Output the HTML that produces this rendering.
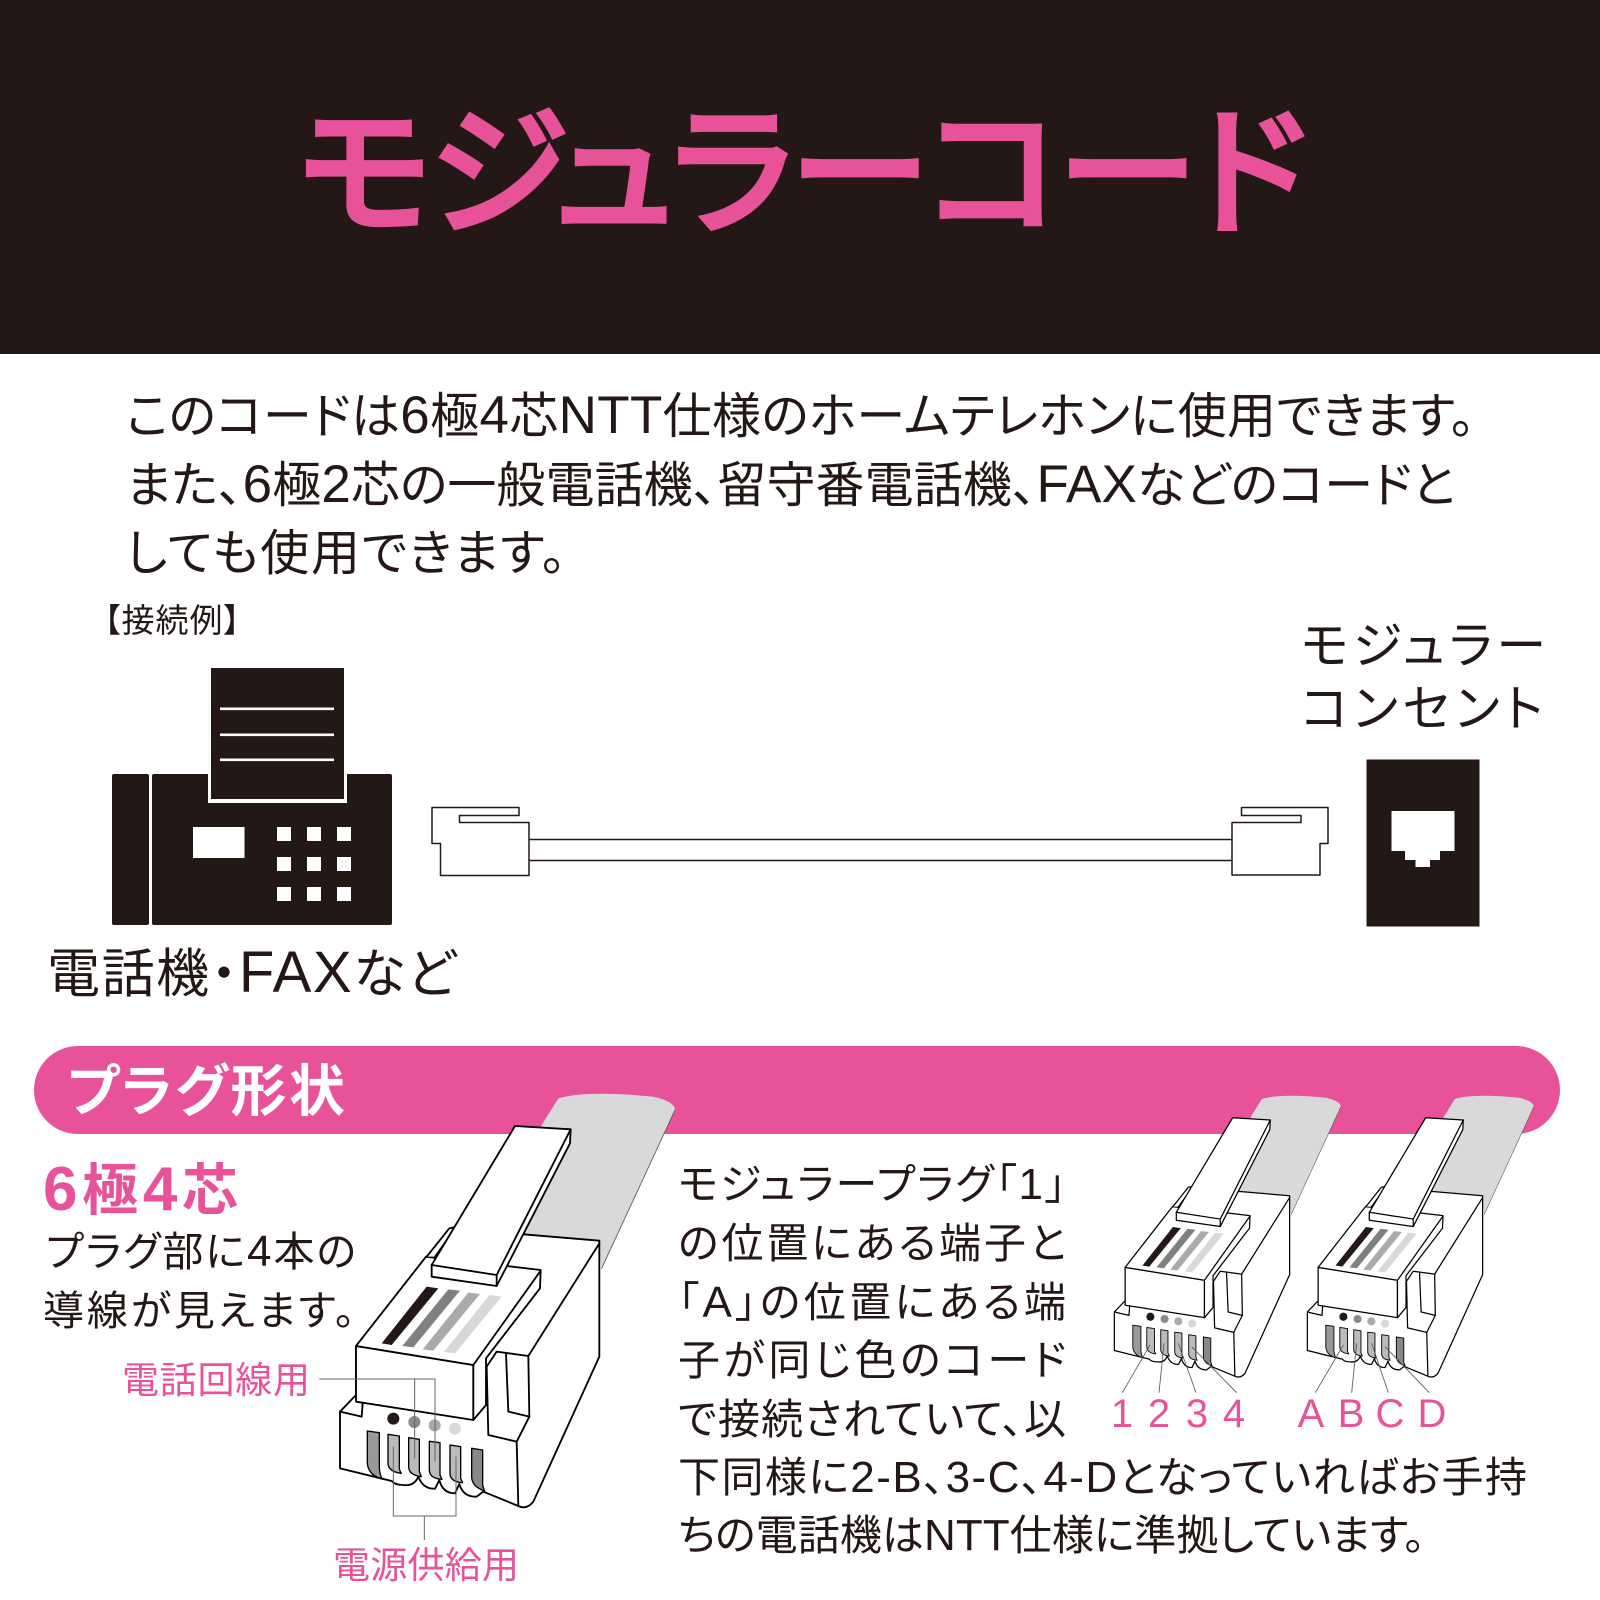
<!DOCTYPE html>
<html lang="ja">
<head>
<meta charset="utf-8">
<style>
html,body{margin:0;padding:0;background:#fff;width:1600px;height:1600px;overflow:hidden}
svg{display:block}
text{font-family:"Liberation Sans","Noto Sans CJK JP",sans-serif;fill:#231815;font-feature-settings:"palt" 1}
.p{fill:#e85298}
</style>
</head>
<body>
<svg width="1600" height="1600" viewBox="0 0 1600 1600" xmlns="http://www.w3.org/2000/svg">
<defs>
<g id="plug" stroke-linejoin="round" stroke-linecap="round">
  <path d="M665,135 L715,55 Q800,30 1000,50 Q1065,65 1065,90 L845,565 L835,480 L610,463 Z" fill="#d9d9d9" stroke="none"/>
  <path d="M1065,90 L845,565" fill="none" stroke="#555" stroke-width="2.5"/>
  <path d="M60,995 L60,1165 L215,1203 Q225,1215 250,1215 Q282,1220 295,1190 Q310,1228 345,1226 L358,1200 Q368,1240 405,1240 L418,1212 Q430,1252 470,1250 L490,1235 L595,1278 Q620,1290 640,1265 L838,830 L838,482 L610,463 L320,530 L108,800 L108,945 Z" fill="#fff" stroke="#000" stroke-width="5.5"/>
  <path d="M60,995 L125,1010 L128,970" fill="none" stroke="#000" stroke-width="5.5"/>
  <path d="M625,828 L838,490" fill="none" stroke="#000" stroke-width="5.5"/>
  <path d="M500,860 L530,815 L625,828 L628,1010 L590,1085 L505,1065 Z" fill="#fff" stroke="#000" stroke-width="5.5"/>
  <path d="M558,822 L565,995 L628,1010 M590,1085 L595,1278" fill="none" stroke="#000" stroke-width="5.5"/>
  <path d="M108,798 L460,855 L460,1020 L108,965 Z" fill="#fff" stroke="#000" stroke-width="5.5"/>
  <path d="M108,798 L318,530 L662,570 L660,625 L498,835 L498,975 L460,1020 L460,855 Z" fill="#fff" stroke="#000" stroke-width="5.5"/>
  <path d="M460,855 L662,572" fill="none" stroke="#000" stroke-width="5.5"/>
  <path d="M320,530 L388,445 L410,440 L345,530" fill="#fff" stroke="#000" stroke-width="5.5"/>
  <path d="M320,620 L355,625 L215,795 L185,790 Z" fill="#231815"/>
  <path d="M385,628 L420,632 L280,802 L247,798 Z" fill="#808080"/>
  <path d="M445,638 L480,642 L340,812 L308,808 Z" fill="#aaa"/>
  <path d="M508,645 L545,650 L405,820 L372,816 Z" fill="#d8d8d8"/>
  <path d="M335,555 L585,138 L752,148 L750,190 L530,618 L335,590 Z" fill="#fff" stroke="#000" stroke-width="5.5"/>
  <path d="M335,555 L530,585 L752,148 M530,585 L530,618" fill="none" stroke="#000" stroke-width="5.5"/>
  <circle cx="220" cy="1016" r="18" fill="#231815"/>
  <circle cx="283" cy="1026" r="18" fill="#8a8a8a"/>
  <circle cx="344" cy="1036" r="18" fill="#aaa"/>
  <circle cx="405" cy="1046" r="18" fill="#d8d8d8"/>
  <path d="M142,1053 L178,1058 L178,1165 Q180,1185 186,1197 Q145,1185 142,1150 Z" fill="#999" stroke="#000" stroke-width="4"/>
  <path d="M204,1063 L238,1068 L238,1165 Q238,1170 244,1180 Q205,1175 204,1150 Z" fill="#bbb" stroke="#000" stroke-width="4"/>
  <path d="M266,1073 L298,1078 L298,1175 Q300,1180 304,1190 Q266,1185 266,1160 Z" fill="#bbb" stroke="#000" stroke-width="4"/>
  <path d="M328,1084 L360,1088 L360,1185 Q362,1190 366,1198 Q328,1195 328,1170 Z" fill="#bbb" stroke="#000" stroke-width="4"/>
  <path d="M390,1095 L422,1100 L422,1195 Q424,1200 428,1208 Q390,1205 390,1180 Z" fill="#bbb" stroke="#000" stroke-width="4"/>
  <path d="M455,1105 L488,1110 L488,1215 Q490,1225 494,1233 Q455,1220 455,1190 Z" fill="#888" stroke="#000" stroke-width="4"/>
</g>
</defs>

<rect x="0" y="0" width="1600" height="354" fill="#231815"/>
<text x="298" y="222" font-size="140" textLength="1008" stroke="#e85298" stroke-width="6" class="p">モジュラーコード</text>

<text x="126" y="433" font-size="49" textLength="1349">このコードは<tspan font-size="53">6</tspan>極<tspan font-size="53">4</tspan>芯<tspan font-size="53">NTT</tspan>仕様のホームテレホンに使用できます。</text>
<text x="126" y="502" font-size="49" textLength="1329">また、<tspan font-size="53">6</tspan>極<tspan font-size="53">2</tspan>芯の一般電話機、留守番電話機、<tspan font-size="53">FAX</tspan>などのコードと</text>
<text x="126" y="570" font-size="49" textLength="440">しても使用できます。</text>

<text x="104" y="632" font-size="33" textLength="136">【接続例】</text>
<text x="1301" y="663" font-size="50" textLength="245">モジュラー</text>
<text x="1301" y="726" font-size="50" textLength="242">コンセント</text>
<text x="47" y="992" font-size="53" textLength="409">電話機・<tspan font-size="58">FAX</tspan>など</text>

<!-- fax -->
<rect x="112" y="774" width="37" height="151" rx="2" fill="#231815"/>
<rect x="152" y="774" width="240" height="151" rx="2" fill="#231815"/>
<rect x="208" y="760" width="139" height="43" fill="#fff"/>
<rect x="211" y="668" width="133" height="131" fill="#231815"/>
<g fill="#fff">
<rect x="220" y="707.500" width="114" height="2.6"/>
<rect x="220" y="733.500" width="114" height="2.6"/>
<rect x="220" y="758.500" width="114" height="2.6"/>
<rect x="193" y="827" width="51.500" height="31"/>
<rect x="277" y="827" width="14" height="14"/><rect x="307" y="827" width="14" height="14"/><rect x="337" y="827" width="14" height="14"/>
<rect x="277" y="857" width="14" height="14"/><rect x="307" y="857" width="14" height="14"/><rect x="337" y="857" width="14" height="14"/>
<rect x="277" y="887" width="14" height="14"/><rect x="307" y="887" width="14" height="14"/><rect x="337" y="887" width="14" height="14"/>
</g>

<!-- cord -->
<g fill="#fff" stroke="#231815" stroke-width="1.5" stroke-linejoin="round">
<path d="M529,839.500 H1232 M529,860.500 H1232" fill="none"/>
<path d="M432,807.500 H519 V815.500 H459.500 V822.500 H529 V875.500 H440.500 V843.500 H432 Z"/>
<path d="M1241.500,807.500 H1328 V843.500 H1320 V875 H1232 V822.500 H1301 V815.500 H1241.500 Z"/>
</g>

<!-- socket -->
<rect x="1366.500" y="759.500" width="113" height="167" fill="#231815"/>
<path d="M1391.500,811 H1454.500 V851 H1440 V860 H1430 V867 H1415.500 V860 H1405 V851 H1391.500 Z" fill="#fff"/>

<!-- pill -->
<rect x="34" y="1046" width="1526" height="88" rx="44" fill="#e85298"/>
<text x="67" y="1111" font-size="56" font-weight="700" textLength="278" style="fill:#fff">プラグ形状</text>

<text x="43" y="1210" font-size="56" font-weight="700" textLength="195" class="p"><tspan font-size="62">6</tspan>極<tspan font-size="62">4</tspan>芯</text>
<text x="46" y="1266" font-size="41" textLength="310">プラグ部に<tspan font-size="44">4</tspan>本の</text>
<text x="43" y="1325" font-size="41" textLength="312">導線が見えます。</text>
<text x="122" y="1393" font-size="37" textLength="188" class="p">電話回線用</text>
<text x="333" y="1578" font-size="37" textLength="186" class="p">電源供給用</text>

<!-- big plug -->
<g transform="translate(320,1080) scale(0.33333)">
  <use href="#plug"/>
  <path d="M-2,897 H345 V1145 M284,895 V1135 M220,1100 V1308 H408 V1130 M313,1308 V1380" fill="none" stroke="#666" stroke-width="3"/>
</g>

<!-- small plugs -->
<g transform="translate(1090,1090) scale(0.33333)">
  <g transform="translate(73,666) scale(.676,.68) translate(-60,-995)"><use href="#plug"/></g>
  <g transform="translate(652,666) scale(.676,.68) translate(-60,-995)"><use href="#plug"/></g>
  <path d="M97,908 L180,765 M207,908 L222,760 M318,908 L265,760 M440,908 L305,770 M676,908 L760,765 M785,908 L800,760 M895,908 L845,760 M1018,908 L885,770" fill="none" stroke="#555" stroke-width="2.500"/>
</g>

<g font-size="40" text-anchor="middle" class="p">
<text x="1122" y="1427" class="p">1</text>
<text x="1159" y="1427" class="p">2</text>
<text x="1197" y="1427" class="p">3</text>
<text x="1234" y="1427" class="p">4</text>
<text x="1311" y="1427" class="p">A</text>
<text x="1351" y="1427" class="p">B</text>
<text x="1390" y="1427" class="p">C</text>
<text x="1432" y="1427" class="p">D</text>
</g>

<text x="678" y="1199" font-size="42" textLength="388">モジュラープラグ「<tspan font-size="44">1</tspan>」</text>
<text x="678" y="1258" font-size="42" textLength="388">の位置にある端子と</text>
<text x="678" y="1317" font-size="42" textLength="388">「<tspan font-size="44">A</tspan>」の位置にある端</text>
<text x="678" y="1375" font-size="42" textLength="388">子が同じ色のコード</text>
<text x="678" y="1434" font-size="42" textLength="388">で接続されていて、以</text>
<text x="678" y="1492" font-size="42" textLength="849">下同様に<tspan font-size="44">2-B</tspan>、<tspan font-size="44">3-C</tspan>、<tspan font-size="44">4-D</tspan>となっていればお手持</text>
<text x="678" y="1550" font-size="42" textLength="747">ちの電話機は<tspan font-size="44">NTT</tspan>仕様に準拠しています。</text>
</svg>
</body>
</html>
